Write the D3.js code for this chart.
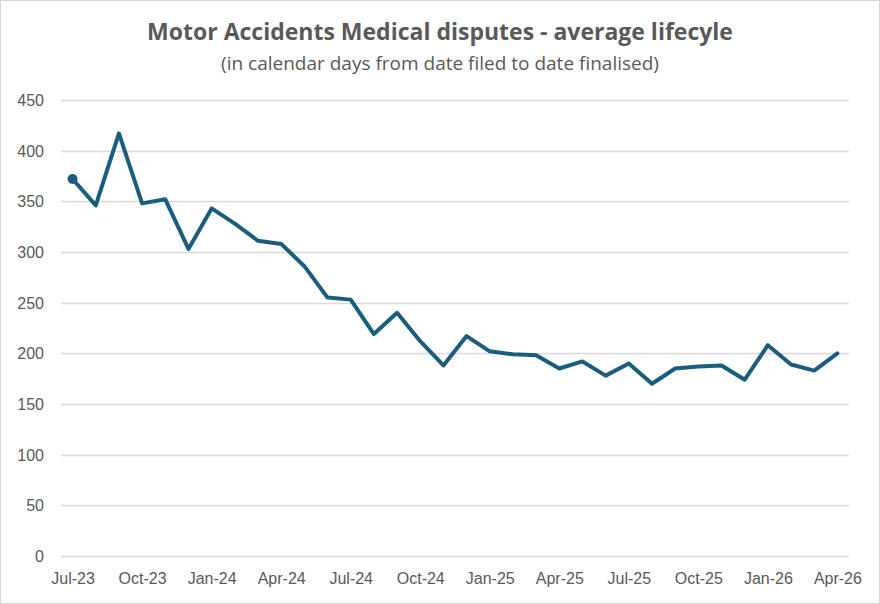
<!DOCTYPE html>
<html>
<head>
<meta charset="utf-8">
<script src="https://cdn.jsdelivr.net/npm/d3@7"></script>
<style>
  body { margin: 0; background: #fff; }
  text { fill: #595959; }
</style>
</head>
<body>
<div id="lifecycleChart"></div>
<script>
// monthly categories, Jul-23 .. Apr-26
var months = ["Jul-23","Aug-23","Sep-23","Oct-23","Nov-23","Dec-23",
  "Jan-24","Feb-24","Mar-24","Apr-24","May-24","Jun-24",
  "Jul-24","Aug-24","Sep-24","Oct-24","Nov-24","Dec-24",
  "Jan-25","Feb-25","Mar-25","Apr-25","May-25","Jun-25",
  "Jul-25","Aug-25","Sep-25","Oct-25","Nov-25","Dec-25",
  "Jan-26","Feb-26","Mar-26","Apr-26"];

// average lifecycle in calendar days
var avgDays = [372, 346, 417, 348, 352, 303,
  343, 328, 311, 308, 286, 255,
  253, 219, 240, 212, 188, 217,
  202, 199, 198, 185, 192, 178,
  190, 170, 185, 187, 188, 174,
  208, 189, 183, 200];

var xTickLabels = ["Jul-23","Oct-23","Jan-24","Apr-24","Jul-24","Oct-24",
  "Jan-25","Apr-25","Jul-25","Oct-25","Jan-26","Apr-26"];
var yTickValues = [0, 50, 100, 150, 200, 250, 300, 350, 400, 450];

var chartTitle = "Motor Accidents Medical disputes - average lifecyle";
var chartSubtitle = "(in calendar days from date filed to date finalised)";

var width = 880, height = 604;
var margin = { top: 100, right: 31, bottom: 48, left: 61 };

var svg = d3.select("#lifecycleChart")
  .append("svg")
  .attr("width", width)
  .attr("height", height);

// chart border
svg.append("rect")
  .attr("x", 0.5).attr("y", 0.5)
  .attr("width", width - 1).attr("height", height - 1)
  .attr("fill", "#fff")
  .attr("stroke", "#d9d9d9");

var x = d3.scalePoint()
  .domain(months)
  .range([margin.left, width - margin.right])
  .padding(0.5);

var y = d3.scaleLinear()
  .domain([0, 450])
  .range([height - margin.bottom, margin.top]);

// gridlines
svg.append("g")
  .selectAll("line")
  .data(yTickValues)
  .enter().append("line")
  .attr("x1", margin.left)
  .attr("x2", width - margin.right)
  .attr("y1", function (d) { return Math.round(y(d)) + 0.5; })
  .attr("y2", function (d) { return Math.round(y(d)) + 0.5; })
  .attr("stroke", "#d9d9d9")
  .attr("stroke-width", 1.5);

// Y axis labels
var yAxis = d3.axisLeft(y).tickValues(yTickValues).tickSize(0).tickPadding(0);
var gy = svg.append("g")
  .attr("transform", "translate(" + 44 + ",0)")
  .call(yAxis);
gy.select(".domain").remove();
gy.selectAll("text")
  .attr("font-family", "'Liberation Sans Narrow', 'Arial Narrow', sans-serif")
  .attr("font-size", 16)
  .attr("fill", "#595959")
  .attr("dy", "0.35em");

// X axis labels
var xAxis = d3.axisBottom(x).tickValues(xTickLabels).tickSize(0).tickPadding(0);
var gx = svg.append("g")
  .attr("transform", "translate(0," + 573 + ")")
  .call(xAxis);
gx.select(".domain").remove();
gx.selectAll("text")
  .attr("font-family", "'Liberation Sans Narrow', 'Arial Narrow', sans-serif")
  .attr("font-size", 16)
  .attr("fill", "#595959");

// the line
var line = d3.line()
  .x(function (d, i) { return x(months[i]); })
  .y(function (d) { return y(d); });

svg.append("path")
  .datum(avgDays)
  .attr("d", line)
  .attr("fill", "none")
  .attr("stroke", "#1a5d7f")
  .attr("stroke-width", 4)
  .attr("stroke-linejoin", "round")
  .attr("stroke-linecap", "round");

// marker on first point only
svg.append("circle")
  .attr("cx", x(months[0]))
  .attr("cy", y(avgDays[0]))
  .attr("r", 5)
  .attr("fill", "#1a5d7f");

// titles
svg.append("text")
  .attr("x", 440)
  .attr("y", 40)
  .attr("text-anchor", "middle")
  .attr("font-family", "'Open Sans', sans-serif")
  .attr("font-weight", "bold")
  .attr("font-size", 23)
  .attr("fill", "#595959")
  .text(chartTitle);

svg.append("text")
  .attr("x", 440)
  .attr("y", 70)
  .attr("text-anchor", "middle")
  .attr("font-family", "'Open Sans', sans-serif")
  .attr("font-size", 19)
  .attr("fill", "#595959")
  .text(chartSubtitle);
</script>
</body>
</html>
